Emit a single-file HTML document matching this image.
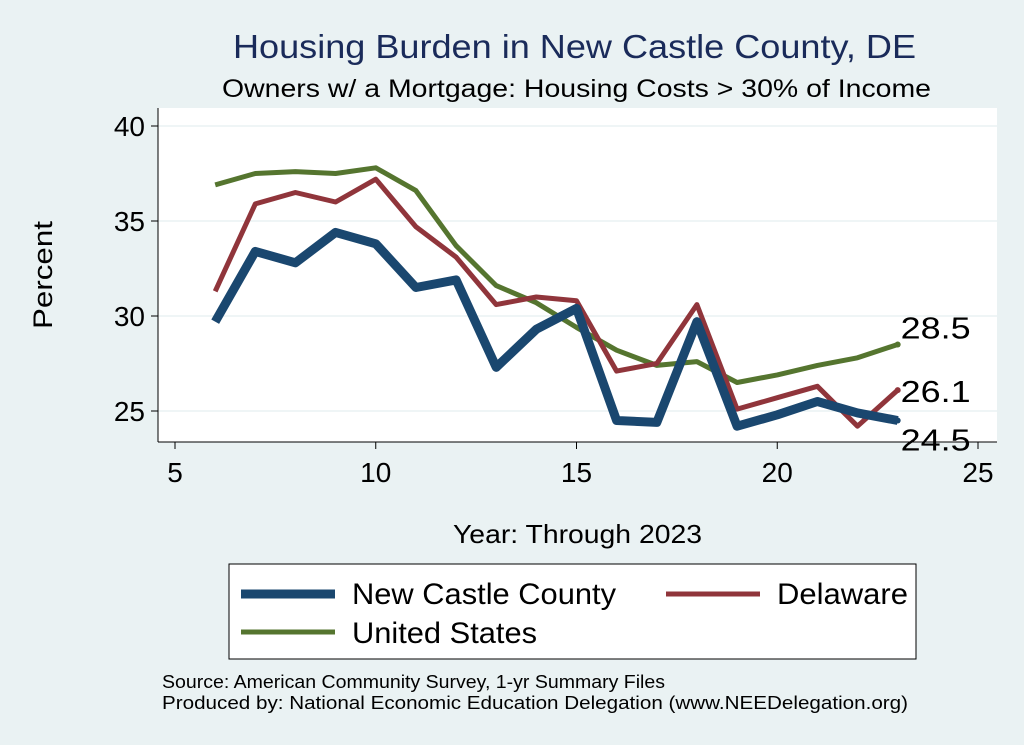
<!DOCTYPE html>
<html><head><meta charset="utf-8"><style>
html,body{margin:0;padding:0;background:#eaf2f3;}
svg{display:block;font-family:"Liberation Sans",sans-serif;}
</style></head><body>
<svg id="c" width="1024" height="745">
<rect x="0" y="0" width="1024" height="745" fill="#eaf2f3"/>
<text x="233" y="58" font-size="33" fill="#1a2b5a" textLength="683" lengthAdjust="spacingAndGlyphs">Housing Burden in New Castle County, DE</text>
<text x="222" y="97" font-size="25" fill="#000" textLength="709" lengthAdjust="spacingAndGlyphs">Owners w/ a Mortgage: Housing Costs &gt; 30% of Income</text>
<rect x="158" y="108" width="839" height="334" fill="#fff"/>
<g id="grid"></g><g id="axes"></g><g id="series"></g>
<text x="52" y="275" font-size="27" text-anchor="middle" textLength="108" lengthAdjust="spacingAndGlyphs" transform="rotate(-90 52 275)">Percent</text>
<text x="453" y="543" font-size="26" textLength="249" lengthAdjust="spacingAndGlyphs">Year: Through 2023</text>
<g>
<rect x="229" y="564" width="687" height="95" fill="#fff" stroke="#000" stroke-width="1"/>
<line x1="241" y1="594" x2="335" y2="594" stroke="#1a476f" stroke-width="9"/>
<text x="352" y="604" font-size="30" textLength="264" lengthAdjust="spacingAndGlyphs">New Castle County</text>
<line x1="666" y1="594" x2="760" y2="594" stroke="#90353b" stroke-width="5"/>
<text x="777" y="604" font-size="30" textLength="131" lengthAdjust="spacingAndGlyphs">Delaware</text>
<line x1="241" y1="632" x2="335" y2="632" stroke="#55752f" stroke-width="5"/>
<text x="352" y="643" font-size="30" textLength="185" lengthAdjust="spacingAndGlyphs">United States</text>
</g>
<text x="162" y="688" font-size="18" textLength="503" lengthAdjust="spacingAndGlyphs">Source: American Community Survey, 1-yr Summary Files</text>
<text x="162" y="709" font-size="18" textLength="746" lengthAdjust="spacingAndGlyphs">Produced by: National Economic Education Delegation (www.NEEDelegation.org)</text>
</svg>
<script>
const years=[6,7,8,9,10,11,12,13,14,15,16,17,18,19,20,21,22,23];
const nccValues=[29.7,33.4,32.8,34.4,33.8,31.5,31.9,27.3,29.3,30.4,24.5,24.4,29.7,24.2,24.8,25.5,24.9,24.5];
const deValues=[31.3,35.9,36.5,36.0,37.2,34.7,33.1,30.6,31.0,30.8,27.1,27.5,30.6,25.1,25.7,26.3,24.2,26.1];
const usValues=[36.9,37.5,37.6,37.5,37.8,36.6,33.7,31.6,30.7,29.4,28.2,27.4,27.6,26.5,26.9,27.4,27.8,28.5];
const xTicks=[5,10,15,20,25];
const yTicks=[25,30,35,40];
const endLabels=["24.5","26.1","28.5"];
const NS="http://www.w3.org/2000/svg";
function xs(v){return 175+(v-5)*40.15;}
function ys(v){return 411-(v-25)*19;}
function mk(tag,attrs,parent,text){const e=document.createElementNS(NS,tag);for(const k in attrs)e.setAttribute(k,attrs[k]);if(text!==undefined)e.textContent=text;document.getElementById(parent).appendChild(e);return e;}
yTicks.forEach(t=>{
  let g=mk('line',{x1:158,x2:997,y1:ys(t),y2:ys(t),stroke:'#eaf2f3','stroke-width':1.5},'grid');
  
  
  let tk=mk('line',{x1:151,x2:158,y1:ys(t),y2:ys(t),stroke:'#000'},'axes');
  
  
  let l=mk('text',{x:145,y:ys(t)+10,'font-size':28,'text-anchor':'end'},'axes',String(t));
  
  
});
let ya=mk('line',{x1:158,x2:158,y1:108,y2:442,stroke:'#000'},'axes');


let xa=mk('line',{x1:158,x2:997,y1:442,y2:442,stroke:'#000'},'axes');


xTicks.forEach(t=>{
  let tk=mk('line',{x1:xs(t),x2:xs(t),y1:442,y2:449,stroke:'#000'},'axes');
  
  
  let l=mk('text',{x:xs(t),y:482,'font-size':28,'text-anchor':'middle'},'axes',String(t));
  
  
});
const series=[[usValues,'#55752f',5,'us-line'],[deValues,'#90353b',5,'de-line'],[nccValues,'#1a476f',9,'ncc-line']];
series.forEach(s=>{
  const d=years.map((y,i)=>(i?'L':'M')+xs(y).toFixed(1)+' '+ys(s[0][i]).toFixed(1)).join(' ');
  let p=mk('path',{d:d,fill:'none',stroke:s[1],'stroke-width':s[2],'stroke-linejoin':'round'},'series');
  
  
  const last=s[0][s[0].length-1];
  let dot=mk('circle',{cx:xs(years[years.length-1]),cy:ys(last),r:3,fill:s[1]},'series');
  
  
});
const ends=[[nccValues,30,endLabels[0]],[deValues,12,endLabels[1]],[usValues,-6,endLabels[2]]];
ends.forEach(e=>{
  let t=mk('text',{x:xs(23)+3,y:ys(e[0][e[0].length-1])+e[1],'font-size':31,textLength:70,lengthAdjust:'spacingAndGlyphs'},'series',e[2]);
  
  
});
</script>
</body></html>
